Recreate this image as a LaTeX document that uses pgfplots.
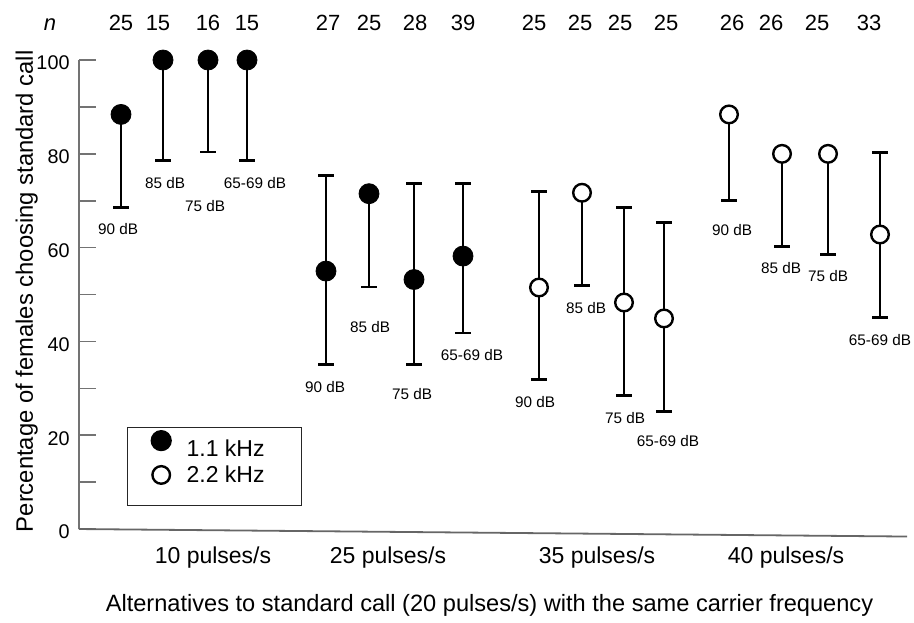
\documentclass[border=0pt]{standalone}
\usepackage{pgfplots}
\pgfplotsset{compat=1.18}
\usepackage{pgfplotstable}
\usepackage{fontspec}
\setmainfont{Liberation Sans}
\definecolor{axgray}{gray}{0.45}

\pgfplotsset{
  legfilled/.style={legend image code/.code={%
    \path[draw=none,fill=none] (-16.8pt,-3pt) rectangle (12.7pt,11pt);
    \draw[##1] plot coordinates {(0pt,4.5pt)};}},
  legopen/.style={legend image code/.code={%
    \path[draw=none,fill=none] (-16.8pt,-14.7pt) rectangle (12.7pt,8.25pt);
    \draw[##1] plot coordinates {(0pt,0.5pt)};}},
}

% x positions are in reference pixels; y in percent
\pgfplotstableread{
x y ep em
121 88.4 0 19.8
163 100 0 21.4
208 100 0 19.6
247 100 0 21.4
326 55.0 20.3 20.0
369 71.5 0 19.9
414 53.2 20.4 18.2
463 58.2 15.5 16.4
}\lowfreq

\pgfplotstableread{
x y ep em
539 51.5 20.4 19.7
582 71.7 0 19.8
624 48.3 20.3 19.9
664 44.9 20.5 19.9
729 88.4 0 18.3
782 80.0 0 19.7
828 80.0 0 21.4
880 62.8 17.5 17.7
}\highfreq

\begin{document}
\begin{tikzpicture}
\begin{axis}[
  scale only axis, width=414pt, height=234.5pt,
  xmin=79, xmax=907, ymin=0, ymax=100,
  clip=false,
  axis x line=bottom, axis y line=left,
  axis line style={-, axgray, line width=0.8pt},
  x axis line style={draw=none},
  tick align=inside,
  major tick length=8.5pt,
  ytick={0,10,...,100},
  yticklabels={0,,20,,40,,60,,80,,100},
  ytick style={axgray, line width=0.8pt},
  yticklabel style={font=\fontsize{9.9}{11}\selectfont, xshift=-1.2pt, yshift=-1.5pt},
  xtick={213,388,597,786},
  xticklabels={10 pulses/s,25 pulses/s,35 pulses/s,40 pulses/s},
  xtick style={draw=none},
  xticklabel style={font=\fontsize{11.5}{13}\selectfont, anchor=base, yshift=-17pt},
  /pgf/number format/assume math mode=true,
  legend style={at={(0.0580,0.2175)}, anchor=north west, draw=black!85, line width=0.6pt,
    inner xsep=0pt, inner ysep=0pt, row sep=0pt,
    nodes={inner sep=0pt},
    font=\fontsize{11.5}{13}\selectfont},
  legend cell align=left,
]
% slightly slanting baseline, as in the original
\draw[black!60, line width=0.9pt] (axis cs:79,0) -- (axis cs:907,-1.6);

\addplot[only marks, mark=*, black, mark size=5pt, legfilled,
  error bars/.cd, y dir=both, y explicit,
  error bar style={line width=1.4pt, black},
  error mark options={rotate=90, black, line width=1.4pt, mark size=3.9pt}]
  table[x=x, y=y, y error plus=ep, y error minus=em]{\lowfreq};
\addlegendentry{1.1 kHz\hspace*{18.5pt}}
\addplot[only marks, mark=*, black, mark size=4.4pt, mark options={fill=white, line width=1.2pt}, legopen,
  error bars/.cd, y dir=both, y explicit,
  error bar style={line width=1.4pt, black},
  error mark options={rotate=90, black, line width=1.4pt, mark size=3.9pt}]
  table[x=x, y=y, y error plus=ep, y error minus=em]{\highfreq};
\addlegendentry{2.2 kHz\hspace*{18.5pt}}

% sample sizes
\begin{scope}[every node/.style={anchor=base, font=\fontsize{11}{12}\selectfont}]
\node at (axis cs:50,106.4) {\itshape n};
\node at (axis cs:121,106.4) {25};
\node at (axis cs:158,106.4) {15};
\node at (axis cs:208,106.4) {16};
\node at (axis cs:247,106.4) {15};
\node at (axis cs:328,106.4) {27};
\node at (axis cs:369,106.4) {25};
\node at (axis cs:415,106.4) {28};
\node at (axis cs:463,106.4) {39};
\node at (axis cs:534,106.4) {25};
\node at (axis cs:580,106.4) {25};
\node at (axis cs:620,106.4) {25};
\node at (axis cs:666,106.4) {25};
\node at (axis cs:732,106.4) {26};
\node at (axis cs:771,106.4) {26};
\node at (axis cs:817,106.4) {25};
\node at (axis cs:869,106.4) {33};
\end{scope}

% intensity labels
\begin{scope}[every node/.style={anchor=center, inner sep=0pt, font=\fontsize{7.65}{9}\selectfont}]
\node at (axis cs:118,64.0) {90 dB};
\node at (axis cs:165,73.8) {85 dB};
\node at (axis cs:205,68.9) {75 dB};
\node at (axis cs:255,73.8) {65-69 dB};
\node at (axis cs:325,30.3) {90 dB};
\node at (axis cs:370,43.1) {85 dB};
\node at (axis cs:412,28.8) {75 dB};
\node at (axis cs:472,37.1) {65-69 dB};
\node at (axis cs:535,27.1) {90 dB};
\node at (axis cs:586,47.1) {85 dB};
\node at (axis cs:625,23.7) {75 dB};
\node at (axis cs:668,18.8) {65-69 dB};
\node at (axis cs:732,63.8) {90 dB};
\node at (axis cs:781,55.7) {85 dB};
\node at (axis cs:828,54.0) {75 dB};
\node at (axis cs:880,40.3) {65-69 dB};
\end{scope}

% axis titles
\node[anchor=base, font=\fontsize{11.8}{13}\selectfont] at (axis cs:489.5,-17.5)
  {Alternatives to standard call (20 pulses/s) with the same carrier frequency};
\node[anchor=base, rotate=90, font=\fontsize{11.9}{13}\selectfont] at (axis cs:33,50.7)
  {Percentage of females choosing standard call};

% page extent
\path (axis cs:0,112.8) rectangle (axis cs:914,-19.0);
\end{axis}
\end{tikzpicture}
\end{document}
